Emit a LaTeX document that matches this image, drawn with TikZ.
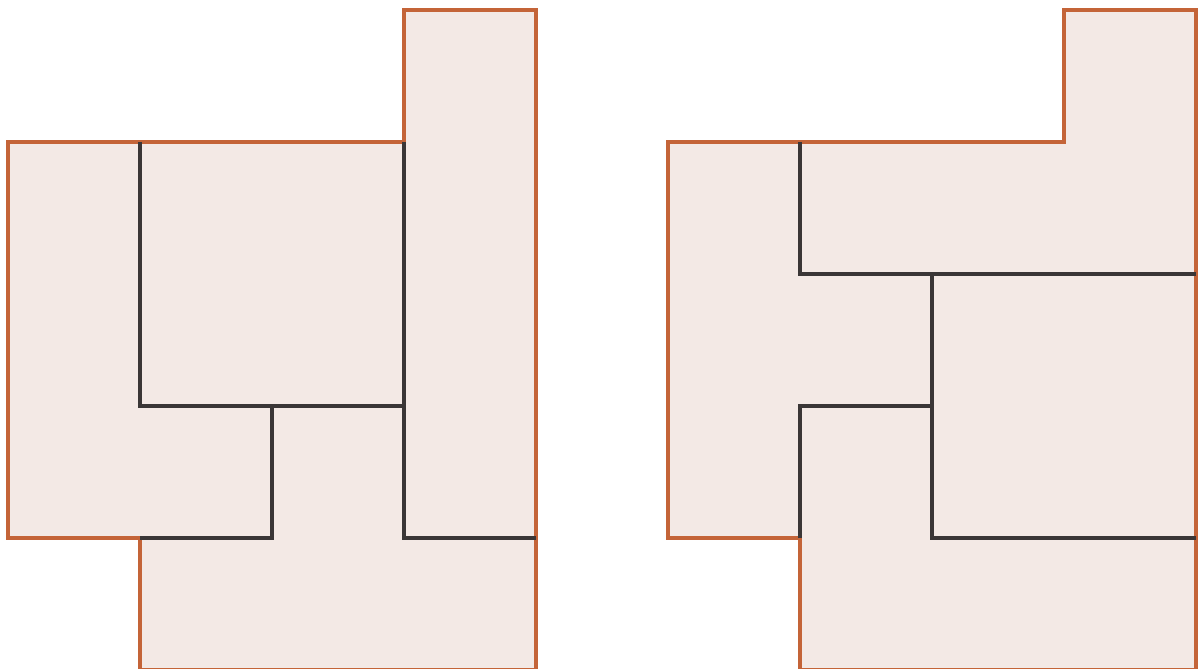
\documentclass[tikz,border=0pt]{standalone}
\definecolor{tileedge}{RGB}{196,100,56}
\definecolor{tilefill}{RGB}{243,233,229}
\definecolor{tilecut}{RGB}{58,54,54}
\begin{document}
\begin{tikzpicture}[x=1.32cm,y=1.32cm,line join=miter,
  outline/.style={draw=tileedge,fill=tilefill,line width=0.9pt},
  cut/.style={draw=tilecut,line width=0.9pt}]
  \useasboundingbox (-0.0606,0.0152) rectangle (9.0303,5.0758);
  % left figure
  \draw[outline] (0,4) -- (3,4) -- (3,5) -- (4,5) -- (4,0) -- (1,0) -- (1,1) -- (0,1) -- cycle;
  \draw[cut] (1,4) -- (1,2) -- (3,2);
  \draw[cut] (3,4) -- (3,1) -- (4,1);
  \draw[cut] (2,2) -- (2,1) -- (1,1);
  % right figure
  \begin{scope}[xshift=6.6cm]
    \draw[outline] (0,4) -- (3,4) -- (3,5) -- (4,5) -- (4,0) -- (1,0) -- (1,1) -- (0,1) -- cycle;
    \draw[cut] (1,4) -- (1,3) -- (4,3);
    \draw[cut] (2,3) -- (2,1) -- (4,1);
    \draw[cut] (1,1) -- (1,2) -- (2,2);
  \end{scope}
\end{tikzpicture}
\end{document}
